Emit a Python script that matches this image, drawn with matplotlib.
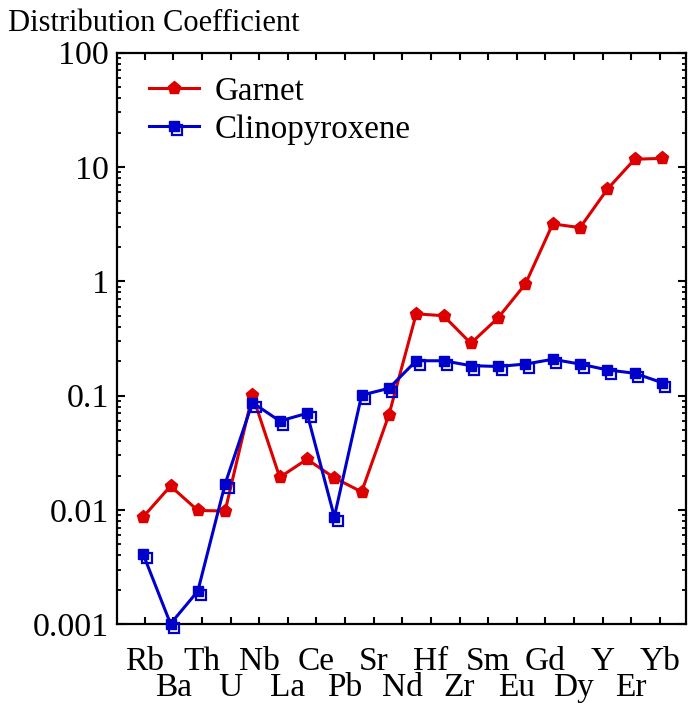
import numpy as np
import matplotlib
matplotlib.use("Agg")
import matplotlib.pyplot as plt
import matplotlib.transforms as mtransforms
from matplotlib.lines import Line2D
from matplotlib.legend_handler import HandlerLine2D
from matplotlib.ticker import FuncFormatter, LogLocator, NullFormatter

plt.rcParams["font.family"] = ["Liberation Serif", "DejaVu Serif"]

# Element labels along the x axis
elements = ["Rb", "Ba", "Th", "U", "Nb", "La", "Ce", "Pb", "Sr", "Nd",
            "Hf", "Zr", "Sm", "Eu", "Gd", "Dy", "Y", "Er", "Yb"]

# Partition coefficients
garnet = [0.0087, 0.0162, 0.0099, 0.0098, 0.101, 0.0193, 0.0278, 0.0191,
          0.0144, 0.068, 0.52, 0.50, 0.287, 0.48, 0.95, 3.18, 2.95, 6.4,
          11.7, 11.9]
clinopyroxene = [0.0041, 0.00101, 0.00195, 0.0169, 0.087, 0.060, 0.070,
                 0.0087, 0.101, 0.116, 0.202, 0.202, 0.183, 0.180, 0.189,
                 0.208, 0.189, 0.168, 0.157, 0.130]

RED = "#dd0000"
BLUE = "#0000cc"
FS = 24
SHADOW_DX, SHADOW_DY = 3.5, -4.0

fig = plt.figure(figsize=(6.88, 7.03), dpi=100)
ax = fig.add_axes([117 / 688, 1 - 624.3 / 703, 569 / 688, 571.6 / 703])

x = np.arange(len(garnet))

ax.plot(x, garnet, color=RED, lw=2.2, marker="p", ms=9.5, mec=RED,
        clip_on=False, zorder=3, label="Garnet")

# open square "shadow" drawn slightly down-right of each filled square
shadow_tr = mtransforms.offset_copy(ax.transData, fig=fig, x=SHADOW_DX,
                                    y=SHADOW_DY, units="dots")
ax.plot(x, clinopyroxene, ls="none", marker="s", ms=7.5, mfc="none",
        mec=BLUE, mew=1.6, transform=shadow_tr, clip_on=False, zorder=3)
ax.plot(x, clinopyroxene, color=BLUE, lw=2.2, marker="s", ms=7.5,
        mec=BLUE, clip_on=False, zorder=4, label="Clinopyroxene")

ax.set_yscale("log")
ax.set_ylim(1e-3, 1e2)
ax.set_xlim(-0.96, 19.88)

ax.yaxis.set_major_formatter(FuncFormatter(lambda v, _: f"{v:g}"))
ax.yaxis.set_minor_locator(LogLocator(base=10, subs=np.arange(2, 10)))
ax.yaxis.set_minor_formatter(NullFormatter())

tick_pos = np.linspace(0.06, 18.92, len(elements))
ax.set_xticks(tick_pos[::2], elements[::2])
ax.set_xticks(tick_pos[1::2], elements[1::2], minor=True)

ax.tick_params(axis="x", which="major", direction="in", length=5, width=1.5,
               top=True, pad=16, labelsize=FS)
ax.tick_params(axis="x", which="minor", direction="in", length=5, width=1.5,
               top=True, pad=34.5, labelsize=FS)
ax.tick_params(axis="y", which="major", direction="in", length=6, width=1.5,
               right=True, pad=6, labelsize=24.5)
ax.tick_params(axis="y", which="minor", direction="in", length=3, width=1.3,
               right=True)
for sp in ax.spines.values():
    sp.set_linewidth(1.6)


class ShadowSquareHandler(HandlerLine2D):
    def create_artists(self, legend, orig_handle, xdescent, ydescent,
                       width, height, fontsize, trans):
        arts = super().create_artists(legend, orig_handle, xdescent,
                                      ydescent, width, height, fontsize, trans)
        line = arts[0]
        xd = np.asarray(line.get_xdata())
        yd = np.asarray(line.get_ydata())
        sh = Line2D([xd.mean()], [yd[0]], ls="none", marker="s", ms=7.5,
                    mfc="none", mec=BLUE, mew=1.6)
        sh.set_transform(trans + mtransforms.Affine2D().translate(SHADOW_DX,
                                                                  SHADOW_DY))
        return [sh] + list(arts)


handles, labels = ax.get_legend_handles_labels()
ax.legend(handles, labels, loc="upper left",
          bbox_to_anchor=(149 / 688, 1 - 76 / 703),
          bbox_transform=fig.transFigure, frameon=False, fontsize=23.8,
          numpoints=1, handlelength=1.5, handletextpad=0.5,
          labelspacing=0.24, borderpad=0, borderaxespad=0,
          handler_map={handles[1]: ShadowSquareHandler()})

fig.text(8 / 688, 1 - 31 / 703, "Distribution Coefficient", fontsize=22,
         ha="left", va="baseline")

fig.savefig("out.png", dpi=100)
